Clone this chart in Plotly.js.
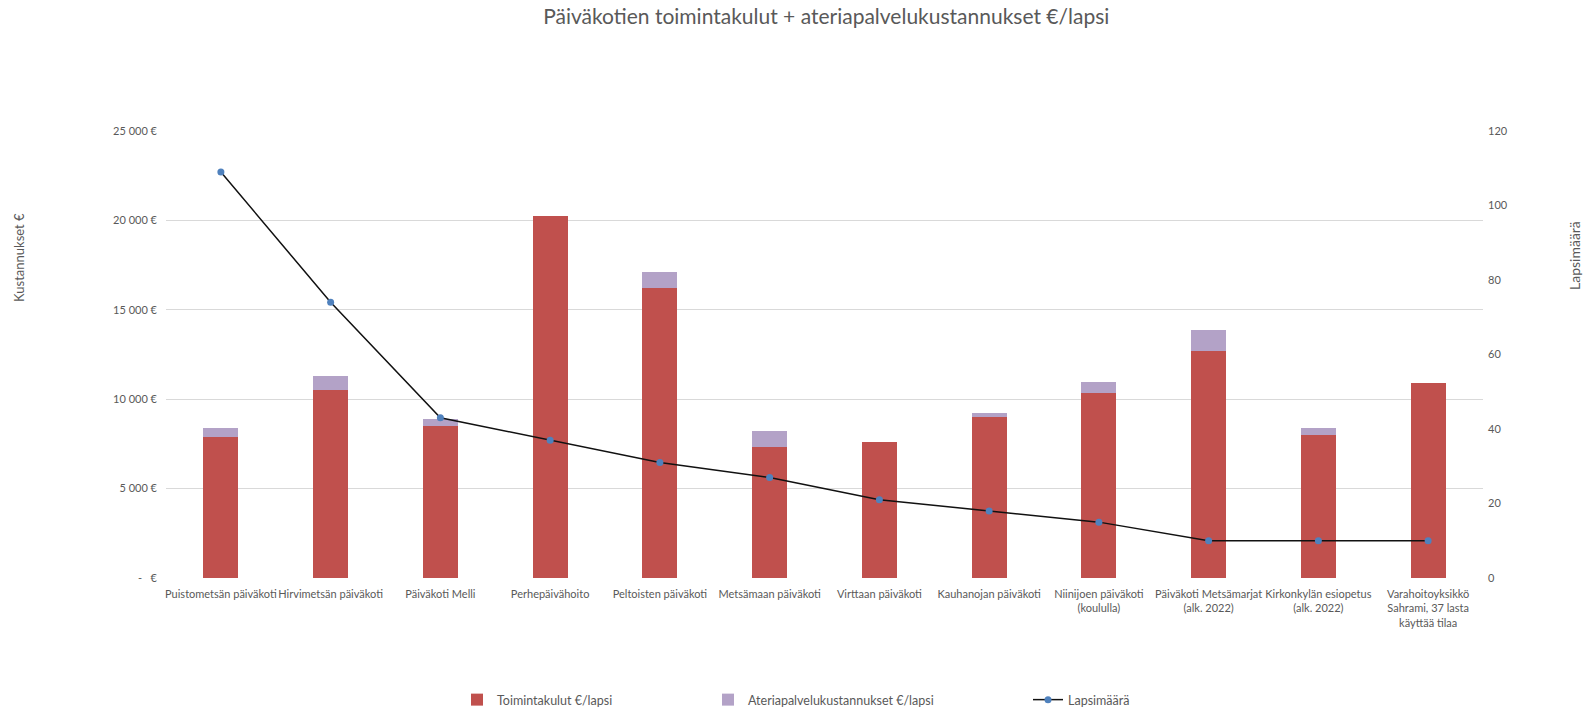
<!DOCTYPE html>
<html>
<head>
<meta charset="utf-8">
<script src="https://cdn.plot.ly/plotly-3.0.1.min.js"></script>
<style>
  html, body { margin: 0; padding: 0; background: #fff; }
  #chart { width: 1589px; height: 712px; }
</style>
</head>
<body>
<div id="chart"></div>
<script>
const units = [
    'Puistometsän päiväkoti',
    'Hirvimetsän päiväkoti',
    'Päiväkoti Melli',
    'Perhepäivähoito',
    'Peltoisten päiväkoti',
    'Metsämaan päiväkoti',
    'Virttaan päiväkoti',
    'Kauhanojan päiväkoti',
    'Niinijoen päiväkoti<br>(koululla)',
    'Päiväkoti Metsämarjat<br>(alk. 2022)',
    'Kirkonkylän esiopetus<br>(alk. 2022)',
    'Varahoitoyksikkö<br>Sahrami, 37 lasta<br>käyttää tilaa',
]
const toimintakulut = [7900, 10500, 8500, 20250, 16200, 7300, 7600, 9020, 10370, 12670, 7980, 10900]
const ateriapalvelu = [500, 800, 370, 0, 900, 900, 0, 190, 610, 1180, 400, 0]
const lapsimaara = [109, 74, 43, 37, 31, 27, 21, 18, 15, 10, 10, 10]

const leftTicks = [0, 5000, 10000, 15000, 20000, 25000]
const leftTickText = ['-   €', '5 000 €', '10 000 €', '15 000 €', '20 000 €', '25 000 €']

const font = 'Lato, "Open Sans", sans-serif'
const grey = '#595959'

const data = [
    {
        x: units,
        y: toimintakulut,
        name: 'Toimintakulut €/lapsi',
        type: 'bar',
        marker: { color: '#C0504D' },
        legend: 'legend',
        showlegend: true,
    },
    {
        x: units,
        y: ateriapalvelu,
        name: 'Ateriapalvelukustannukset €/lapsi',
        type: 'bar',
        marker: { color: '#B3A2C7' },
        legend: 'legend2',
        showlegend: true,
    },
    {
        x: units,
        y: lapsimaara,
        name: 'Lapsimäärä',
        type: 'scatter',
        mode: 'lines+markers',
        yaxis: 'y2',
        line: { color: '#111', width: 1.5 },
        marker: { color: '#4F81BD', size: 7 },
        legend: 'legend3',
        showlegend: true,
    },
]

// one legend per series, so each entry sits where the original has it
const legendAt = (px) => ({
    visible: true,
    orientation: 'h',
    x: px / 1589,
    xref: 'container',
    xanchor: 'left',
    y: 1 - 700 / 712,
    yref: 'container',
    yanchor: 'middle',
    font: { family: font, size: 12.5, color: grey },
})

const layout = {
    width: 1589,
    height: 712,
    paper_bgcolor: '#fff',
    plot_bgcolor: '#fff',
    font: { family: font, color: grey, size: 11 },
    showlegend: true,
    barmode: 'stack',
    bargap: 0.68,
    hovermode: false,
    margin: { l: 166, r: 106, t: 131, b: 134, pad: 0, autoexpand: false },
    title: {
        text: 'Päiväkotien toimintakulut + ateriapalvelukustannukset €/lapsi',
        font: { family: font, size: 21, color: grey },
        x: 0.52,
        xanchor: 'center',
        y: 1 - 17 / 712,
        yanchor: 'middle',
    },
    xaxis: {
        type: 'category',
        range: [-0.5, 11.5],
        automargin: false,
        showgrid: false,
        showline: false,
        zeroline: false,
        ticks: '',
        tickangle: 0,
        ticklabelstandoff: 8,
        tickfont: { family: font, size: 11, color: grey },
    },
    yaxis: {
        range: [0, 25000],
        automargin: false,
        tickvals: leftTicks,
        ticktext: leftTickText,
        gridcolor: '#D9D9D9',
        gridwidth: 1,
        zeroline: false,
        showline: false,
        ticks: '',
        ticklabelstandoff: 8,
        tickfont: { family: font, size: 11, color: grey },
    },
    yaxis2: {
        overlaying: 'y',
        side: 'right',
        automargin: false,
        range: [0, 120],
        tickvals: [0, 20, 40, 60, 80, 100, 120],
        showgrid: false,
        zeroline: false,
        showline: false,
        ticks: '',
        ticklabelstandoff: 4,
        tickfont: { family: font, size: 11, color: grey },
    },
    legend: legendAt(457),
    legend2: legendAt(708),
    legend3: legendAt(1028),
    annotations: [
        {
            text: 'Kustannukset €',
            xref: 'paper', yref: 'paper',
            x: -147 / 1317, y: (578 - 258) / 447,
            xanchor: 'center', yanchor: 'middle',
            textangle: -90, showarrow: false,
            font: { family: font, size: 13, color: grey },
        },
        {
            text: 'Lapsimäärä',
            xref: 'paper', yref: 'paper',
            x: 1 + 91 / 1317, y: (578 - 256) / 447,
            xanchor: 'center', yanchor: 'middle',
            textangle: -90, showarrow: false,
            font: { family: font, size: 14, color: grey },
        },
    ],
}

Plotly.newPlot('chart', data, layout, { displayModeBar: false, staticPlot: true })
</script>
</body>
</html>
